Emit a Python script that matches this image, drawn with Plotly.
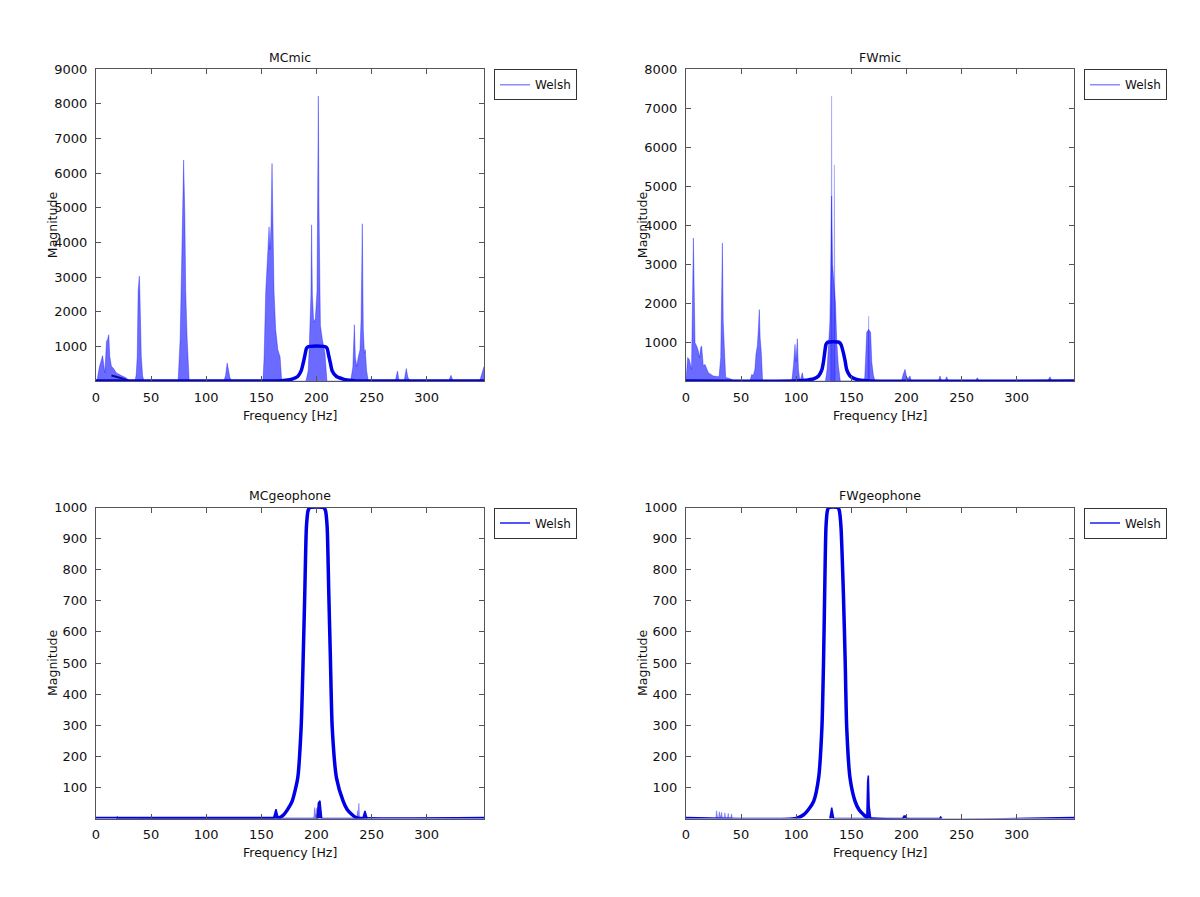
import plotly.graph_objects as go

# ---------------- data ----------------
# MC microphone spectrum
mc_mic_f = [0, 1.2, 3, 6.0, 8.0, 9.5, 10.4, 11.6, 12.5, 14, 15.6, 18.6, 23, 27.5, 30.5,
            35.5, 36.5, 37.4, 38.2, 39.3, 39.8, 41.1, 42.3, 43.5,
            74.5, 75.3, 76.3, 77.2, 78.2, 79.5, 80.6, 81.4, 82.6, 83.6, 84.5,
            116, 117.5, 119, 120, 121.5, 123,
            151.5, 152.5, 154, 155.5, 157, 157.8, 158.8, 159.7, 160.5, 161.5, 163, 165, 167, 168.5,
            190.5, 192.5, 193.5, 195, 195.6, 196.3, 197.5, 199, 200.5, 201.2, 201.7, 202.3, 203.6, 205.4, 207.7, 209.5,
            231, 233, 234.4, 235.3, 236.5, 238, 239.5, 240.5, 241.6, 242.5, 243.5, 244.3, 245.5, 247,
            271.5, 273.5, 275, 279.5, 281.5, 283, 285, 320, 322, 324, 348, 350, 352]
mc_mic_m = [0, 60, 400, 733, 233, 1145, 1190, 1338, 712, 424, 376, 233, 156, 89, 0,
            0, 200, 700, 2600, 3030, 2600, 700, 150, 0,
            0, 400, 1200, 2600, 4800, 6380, 4800, 2600, 1300, 600, 0,
            0, 150, 520, 350, 100, 0,
            0, 700, 2600, 3500, 4450, 3800, 4500, 6280, 4000, 2600, 1500, 900, 700, 0,
            0, 300, 1000, 2500, 4510, 2500, 1700, 1800, 2600, 5500, 8230, 5000, 1600, 1190, 800, 0,
            0, 400, 1626, 700, 424, 700, 900, 1800, 4540, 1500, 800, 905, 300, 0,
            0, 290, 0, 0, 360, 100, 0, 0, 165, 0, 0, 200, 420]
mc_mic_dark_f = [14, 17, 20, 25, 30]
mc_mic_dark_m = [160, 140, 110, 60, 0]

# FW microphone spectrum (main fill + lighter upper spikes)
fw_mic_f = [0, 1.5, 3, 5, 6.7, 8.2, 9.7, 11.2, 12.2, 13.3, 14.2, 15.7, 17.2, 20.3, 24.8, 27.8, 30,
            31.5, 32.3, 33, 33.8, 35, 36, 40, 42, 44,
            58, 59.6, 61, 62.5, 63.5, 64.7, 65.6, 66.5, 67.3, 68.4, 69.5,
            96, 97.5, 98.9, 99.8, 101, 102, 103, 104, 105.5, 107,
            126.5, 128, 129.5, 130.5, 131.3, 132.1, 132.9, 134, 135.6, 136.8, 138.2, 140,
            162, 163, 163.9, 165.7, 167.5, 168.5, 170, 171.5,
            195.5, 197, 198.7, 200, 201.5, 203.2, 204.5,
            229, 230.4, 232, 235, 236.5, 238, 262.5, 264.3, 266, 328, 330.2, 332]
fw_mic_m = [0, 600, 555, 300, 3670, 980, 896, 768, 600, 853, 896, 384, 427, 213, 128, 120, 110,
            600, 2000, 3540, 1500, 400, 90, 60, 20, 0,
            0, 170, 140, 300, 700, 900, 1300, 1835, 1100, 700, 0,
            0, 400, 940, 500, 1084, 300, 80, 40, 213, 0,
            0, 300, 900, 1500, 2800, 4750, 3000, 2500, 2000, 1000, 400, 0,
            0, 600, 1250, 1323, 1250, 500, 150, 0,
            0, 170, 300, 120, 60, 128, 0,
            0, 128, 0, 0, 110, 0, 0, 85, 0, 0, 110, 0]
fw_mic_hi_f = [131.2, 132.1, 132.9, 133.9, 134.6, 135.3, 164.9, 165.7, 166.5]
fw_mic_hi_m = [0, 7315, 0, 0, 5548, 0, 0, 1664, 0]

# MC geophone spectrum
mc_geo_f = [18.5, 19.3, 20, 160.9, 162.5, 163.3, 165.4, 200.8, 201.7, 203.2, 204.8, 242, 244, 246]
mc_geo_m = [0, 4, 0, 0, 20, 30, 0, 0, 50, 57, 0, 0, 24, 0]
mc_geo_light_f = [39, 40, 41, 45, 46, 47, 197.5, 198.4, 199.2, 199.8, 200.9, 201.5,
                  236.5, 237.3, 237.8, 238.5, 239.2]
mc_geo_light_m = [0, 4, 0, 0, 5, 0, 0, 35, 5, 30, 36, 0, 0, 25, 5, 49, 0]

# FW geophone spectrum
fw_geo_f = [130.5, 132.2, 134, 164, 164.8, 165.4, 166.2, 167.6, 196.5, 197.8, 199.3, 200.5, 230, 231, 232]
fw_geo_m = [0, 35, 0, 0, 120, 138, 40, 0, 0, 8, 8, 0, 0, 5, 0]
fw_geo_light_f = [27, 27.8, 28.6, 29.5, 30.2, 31, 31.6, 32.3, 33, 34.6, 35.3, 36, 37.6, 38.3, 39,
                  40.6, 41.3, 42]
fw_geo_light_m = [0, 25, 2, 2, 22, 2, 2, 20, 2, 2, 18, 2, 2, 17, 2, 2, 15, 0]

# Welsh filter windows
mc_win_f = [0, 160, 165, 170.3, 174, 177.9, 183, 186.1, 187.9, 189.4, 190.9, 192.4, 194,
            206.5, 208.2, 209.7, 211.2, 212.7, 214.3, 218.2, 224.3, 228, 232.4, 236, 240, 352]
mc_win_m = [0, 0, 1, 12, 30, 55, 130, 292, 508, 723, 938, 990, 1000,
            1000, 990, 938, 723, 508, 292, 130, 55, 28, 12, 3, 0, 0]
fw_win_f = [0, 100, 106.7, 111, 115.8, 120.3, 123.3, 124.8, 125.8, 127, 128.3, 129.5,
            137.8, 139.1, 140.6, 142.8, 144.4, 145.8, 148.8, 153.4, 157, 161.2, 166, 352]
fw_win_m = [0, 0, 12, 28, 55, 130, 292, 508, 723, 938, 990, 1000,
            1000, 990, 938, 723, 508, 292, 130, 55, 28, 12, 0, 0]

titles = ["MCmic", "FWmic", "MCgeophone", "FWgeophone"]
x_ticks = [0, 50, 100, 150, 200, 250, 300]
y_ticks_mc_mic = [1000, 2000, 3000, 4000, 5000, 6000, 7000, 8000, 9000]
y_ticks_fw_mic = [1000, 2000, 3000, 4000, 5000, 6000, 7000, 8000]
y_ticks_geo = [100, 200, 300, 400, 500, 600, 700, 800, 900, 1000]
legend_name = "Welsh"

# ---------------- styling ----------------
W, H = 1200, 897
FONT = "DejaVu Sans"
FILL = "rgba(0,0,255,0.58)"
EDGE = "rgba(0,0,255,0.55)"
DARK = "rgba(0,0,220,0.95)"
WIN = "#0000e6"
FRAME = "#555555"
TXT = "#111111"

fig = go.Figure()

def px_x(p):
    return p / W

def px_y(p):
    return 1 - p / H

doms_x = [(96, 484), (686, 1074), (96, 484), (686, 1074)]
doms_y = [(69.3, 381), (69.3, 381), (507.5, 818.5), (507.5, 818.5)]
yranges = [[0, 9000], [0, 8000], [0, 1000], [0, 1000]]
yticks = [y_ticks_mc_mic, y_ticks_fw_mic, y_ticks_geo, y_ticks_geo]

def fill_trace(f, m, i, color=FILL, edge=EDGE, w=0.6):
    sfx = "" if i == 0 else str(i + 1)
    fig.add_trace(go.Scatter(x=f, y=m, mode="lines", fill="tozeroy", fillcolor=color,
                             line=dict(color=edge, width=w), xaxis="x" + sfx, yaxis="y" + sfx,
                             showlegend=False, hoverinfo="skip"))

def line_trace(f, m, i, color=WIN, w=3.5, shape="linear"):
    sfx = "" if i == 0 else str(i + 1)
    line = dict(color=color, width=w, shape=shape)
    if shape == "spline":
        line["smoothing"] = 0.6
    fig.add_trace(go.Scatter(x=f, y=m, mode="lines", line=line,
                             xaxis="x" + sfx, yaxis="y" + sfx, showlegend=False, hoverinfo="skip"))

# subplot 1: MC mic
fill_trace(mc_mic_f, mc_mic_m, 0)
line_trace(mc_mic_dark_f, mc_mic_dark_m, 0, color="rgba(0,0,160,0.9)", w=2)
line_trace(mc_win_f, mc_win_m, 0, shape="spline")
# subplot 2: FW mic
fill_trace(fw_mic_hi_f, fw_mic_hi_m, 1, color="rgba(0,0,255,0.3)", edge="rgba(0,0,255,0.3)")
fill_trace(fw_mic_f, fw_mic_m, 1)
line_trace(fw_win_f, fw_win_m, 1, shape="spline")
# subplot 3: MC geophone
fill_trace(mc_geo_light_f, mc_geo_light_m, 2, color="rgba(0,0,255,0.4)", edge="rgba(0,0,255,0.45)")
fill_trace(mc_geo_f, mc_geo_m, 2, color=DARK, edge=DARK, w=1.5)
line_trace(mc_win_f, mc_win_m, 2, shape="spline")
# subplot 4: FW geophone
fill_trace(fw_geo_light_f, fw_geo_light_m, 3, color="rgba(0,0,255,0.4)", edge="rgba(0,0,255,0.45)")
fill_trace(fw_geo_f, fw_geo_m, 3, color=DARK, edge=DARK, w=1.5)
line_trace(fw_win_f, fw_win_m, 3, shape="spline")

# legend dummy traces
legend_colors = ["rgba(0,0,255,0.45)", "rgba(0,0,255,0.45)", "#1a1aff", "#1a1aff"]
legend_ids = ["legend", "legend2", "legend3", "legend4"]
for i in range(4):
    sfx = "" if i == 0 else str(i + 1)
    fig.add_trace(go.Scatter(x=[None], y=[None], mode="lines", name=legend_name,
                             line=dict(color=legend_colors[i], width=1.5),
                             xaxis="x" + sfx, yaxis="y" + sfx, legend=legend_ids[i],
                             showlegend=True))

layout = dict(template="none", width=W, height=H, paper_bgcolor="white", plot_bgcolor="white",
              margin=dict(l=0, r=0, t=0, b=0, pad=0, autoexpand=False),
              font=dict(family=FONT, size=12, color=TXT),
              annotations=[])

leg_pos = [(494, 69.3), (1084, 69.3), (494, 507.5), (1084, 507.5)]
for i in range(4):
    sfx = "" if i == 0 else str(i + 1)
    x0, x1 = doms_x[i]
    y0, y1 = doms_y[i]
    layout["xaxis" + sfx] = dict(domain=[px_x(x0), px_x(x1)], range=[0, 352], anchor="y" + sfx,
                                 tickvals=x_ticks, ticks="inside", ticklen=5, tickcolor=FRAME,
                                 showline=True, linecolor=FRAME, linewidth=1, mirror="ticks",
                                 showgrid=False, zeroline=False, ticklabelstandoff=4,
                                 automargin=False,
                                 tickfont=dict(size=13, family=FONT, color=TXT))
    layout["yaxis" + sfx] = dict(domain=[px_y(y1), px_y(y0)], range=yranges[i], anchor="x" + sfx,
                                 tickvals=yticks[i], ticks="inside", ticklen=5, tickcolor=FRAME,
                                 showline=True, linecolor=FRAME, linewidth=1, mirror="ticks",
                                 showgrid=False, zeroline=False, ticklabelstandoff=5,
                                 automargin=False,
                                 tickfont=dict(size=13, family=FONT, color=TXT))
    cx = (x0 + x1) / 2
    layout["annotations"].append(dict(text=titles[i], x=px_x(cx), y=px_y(y0 - 12), xref="paper",
                                      yref="paper", showarrow=False, xanchor="center",
                                      yanchor="middle", font=dict(size=12.5)))
    layout["annotations"].append(dict(text="Frequency [Hz]", x=px_x(cx), y=px_y(y1 + 34),
                                      xref="paper", yref="paper", showarrow=False,
                                      xanchor="center", yanchor="middle", font=dict(size=12.5)))
    layout["annotations"].append(dict(text="Magnitude", x=px_x(x0 - 44), y=px_y((y0 + y1) / 2),
                                      xref="paper", yref="paper", showarrow=False, textangle=-90,
                                      xanchor="center", yanchor="middle", font=dict(size=12.5)))
    lx, ly = leg_pos[i]
    layout[legend_ids[i]] = dict(x=px_x(lx), y=px_y(ly), xanchor="left", yanchor="top",
                                 bgcolor="white", bordercolor="#333333", borderwidth=1,
                                 font=dict(size=12, family=FONT), itemwidth=30,
                                 tracegroupgap=0)

fig.update_layout(**layout)
fig.write_html("out.html", config={"displayModeBar": False},
               post_script="document.body.style.margin='0';document.body.style.padding='0';"
                           "document.body.style.overflow='hidden';"
                           "document.documentElement.style.overflow='hidden';")
